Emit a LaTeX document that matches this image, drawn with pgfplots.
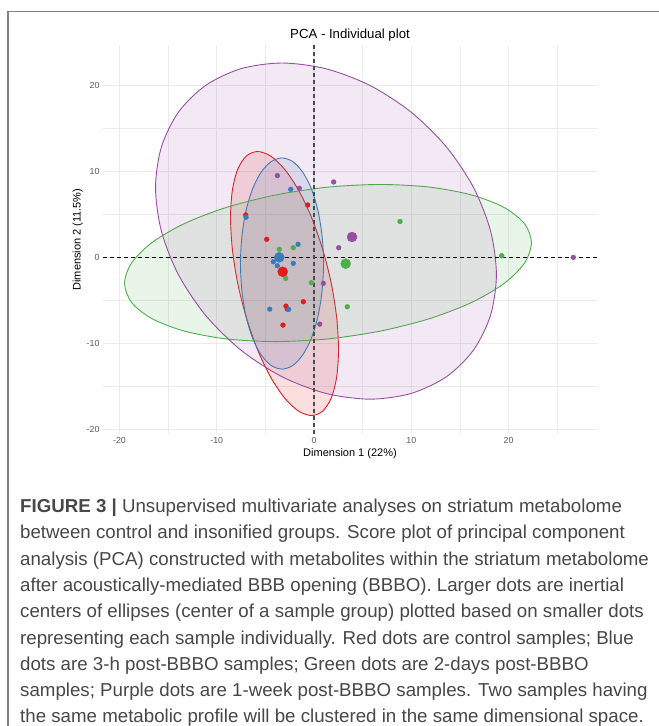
\documentclass[border=0pt]{standalone}
\usepackage{fontspec}
\setmainfont{Liberation Sans}
\usepackage{pgfplots}
\pgfplotsset{compat=1.18}
\definecolor{cRed}{HTML}{E41A1C}
\definecolor{cBlue}{HTML}{377EB8}
\definecolor{cGreen}{HTML}{4DAF4A}
\definecolor{cPurple}{HTML}{984EA3}
\definecolor{capgray}{HTML}{474747}
\begin{document}
\begin{tikzpicture}[x=1pt,y=1pt]
\useasboundingbox (0,0) rectangle (659,-726);
\draw[color=black!50, line width=1.8pt] (8,-726) -- (8,-11.5) -- (659,-11.5);
\begin{axis}[
  at={(103pt,-433.5pt)}, anchor=south west,
  scale only axis, width=494pt, height=388pt,
  xmin=-21.69, xmax=29.09, ymin=-20.5, ymax=24.7,
  axis line style={draw=none}, tick style={draw=none},
  xtick={-20,-10,0,10,20}, xticklabels={-20,-10,0,10,20},
  ytick={-20,-10,0,10,20}, yticklabels={-20,-10,0,10,20},
  minor xtick={-15,-5,5,15,25}, minor ytick={-15,-5,5,15},
  grid=both,
  major grid style={draw=black!8, line width=1.1pt},
  minor grid style={draw=black!8, line width=0.55pt},
  ticklabel style={font=\fontsize{8.8}{10}\selectfont, text=black!65},
  xlabel={Dimension 1 (22\%)}, ylabel={Dimension 2 (11.5\%)},
  label style={font=\fontsize{11}{13}\selectfont},
  xlabel shift=-2pt, ylabel shift=-3pt,
  title={PCA - Individual plot},
  title style={font=\fontsize{13.2}{15}\selectfont, yshift=-5pt},
  clip=true,
]
% individual samples
\addplot[only marks, mark=*, mark size=2.4pt, color=cRed] coordinates {
(-7.02,4.96) (-0.65,6.12) (-4.86,2.12) (-1.10,-5.15) (-2.88,-5.66) (-2.75,-6.00) (-3.19,-7.87)};
\addplot[only marks, mark=*, mark size=2.4pt, color=cBlue] coordinates {
(-2.39,7.95) (-6.99,4.69) (-1.64,1.54) (-4.18,-0.49) (-3.77,-0.96) (-2.13,-0.68) (-4.55,-6.01) (-2.60,-6.04)};
\addplot[only marks, mark=*, mark size=2.4pt, color=cGreen] coordinates {
(-3.57,0.96) (-2.13,1.14) (-2.91,-2.43) (-0.28,-2.94) (3.42,-5.74) (8.84,4.20) (19.29,0.21)};
\addplot[only marks, mark=*, mark size=2.4pt, color=cPurple] coordinates {
(-3.77,9.54) (-1.51,8.07) (2.02,8.80) (2.54,1.14) (0.96,-3.01) (0.59,-7.76) (26.65,0.02)};
% ellipses
\addplot[smooth cycle, draw=cRed, line width=0.9pt, fill=cRed, fill opacity=0.14] coordinates {
(2.52,-10.72) (2.33,-13.91) (1.78,-16.35) (0.89,-17.89) (-0.25,-18.41) (-1.59,-17.89) (-3.03,-16.35) (-4.47,-13.91) (-5.81,-10.72) (-6.95,-7.01) (-7.84,-3.03) (-8.39,0.95) (-8.58,4.66) (-8.39,7.85) (-7.84,10.29) (-6.95,11.83) (-5.81,12.35) (-4.47,11.83) (-3.03,10.29) (-1.59,7.85) (-0.25,4.66) (0.89,0.95) (1.78,-3.03) (2.33,-7.01)};
\addplot[smooth cycle, draw=cBlue, line width=0.9pt, fill=cBlue, fill opacity=0.14] coordinates {
(0.98,-0.70) (0.83,-3.88) (0.41,-6.85) (-0.27,-9.40) (-1.16,-11.35) (-2.19,-12.58) (-3.29,-13.00) (-4.39,-12.58) (-5.43,-11.35) (-6.31,-9.40) (-6.99,-6.85) (-7.41,-3.88) (-7.56,-0.70) (-7.41,2.48) (-6.99,5.45) (-6.31,8.00) (-5.43,9.95) (-4.39,11.18) (-3.29,11.60) (-2.19,11.18) (-1.16,9.95) (-0.27,8.00) (0.41,5.45) (0.83,2.48)};
\addplot[smooth cycle, draw=cGreen, line width=0.9pt, fill=cGreen, fill opacity=0.12] coordinates {
(22.35,1.73) (21.64,-0.64) (19.55,-3.01) (16.23,-5.22) (11.90,-7.11) (6.85,-8.56) (1.44,-9.48) (-3.97,-9.79) (-9.02,-9.48) (-13.35,-8.56) (-16.67,-7.11) (-18.76,-5.22) (-19.47,-3.01) (-18.76,-0.64) (-16.67,1.73) (-13.35,3.94) (-9.02,5.83) (-3.97,7.28) (1.44,8.20) (6.85,8.51) (11.90,8.20) (16.23,7.28) (19.55,5.83) (21.64,3.94)};
\addplot[smooth cycle, draw=cPurple, line width=0.9pt, fill=cPurple, fill opacity=0.12] coordinates {
(18.75,-1.99) (18.15,-6.71) (16.40,-10.77) (13.62,-13.88) (9.99,-15.83) (5.76,-16.50) (1.23,-15.83) (-3.30,-13.88) (-7.53,-10.77) (-11.16,-6.71) (-13.94,-1.99) (-15.69,3.08) (-16.29,8.15) (-15.69,12.87) (-13.94,16.93) (-11.16,20.04) (-7.53,21.99) (-3.30,22.66) (1.23,21.99) (5.76,20.04) (9.99,16.93) (13.62,12.87) (16.40,8.15) (18.15,3.08)};
% zero lines
\addplot[black, line width=1pt, dash pattern=on 4pt off 3pt] coordinates {(-21.69,0) (29.09,0)};
\addplot[black!70, line width=1.3pt, dash pattern=on 4pt off 3pt] coordinates {(0,-20.5) (0,24.7)};
% group centres
\addplot[only marks, mark=*, mark size=5pt, color=cRed] coordinates {(-3.22,-1.66)};
\addplot[only marks, mark=*, mark size=5pt, color=cBlue] coordinates {(-3.57,0.02)};
\addplot[only marks, mark=*, mark size=5pt, color=cGreen] coordinates {(3.26,-0.72)};
\addplot[only marks, mark=*, mark size=5pt, color=cPurple] coordinates {(3.91,2.39)};
\end{axis}
\begin{scope}[every node/.style={anchor=base west, inner sep=0pt, text=capgray, font=\fontsize{18.7}{22}\selectfont}]
\node at (20,-512.5) {\textbf{FIGURE 3 |} Unsupervised multivariate analyses on striatum metabolome};
\node at (20,-538.8) {between control and insonified groups. Score plot of principal component};
\node at (20,-565.1) {analysis (PCA) constructed with metabolites within the striatum metabolome};
\node at (20,-591.4) {after acoustically-mediated BBB opening (BBBO). Larger dots are inertial};
\node at (20,-617.7) {centers of ellipses (center of a sample group) plotted based on smaller dots};
\node at (20,-644.0) {representing each sample individually. Red dots are control samples; Blue};
\node at (20,-670.3) {dots are 3-h post-BBBO samples; Green dots are 2-days post-BBBO};
\node at (20,-696.6) {samples; Purple dots are 1-week post-BBBO samples. Two samples having};
\node at (20,-722.0) {the same metabolic profile will be clustered in the same dimensional space.};
\end{scope}
\end{tikzpicture}
\end{document}
